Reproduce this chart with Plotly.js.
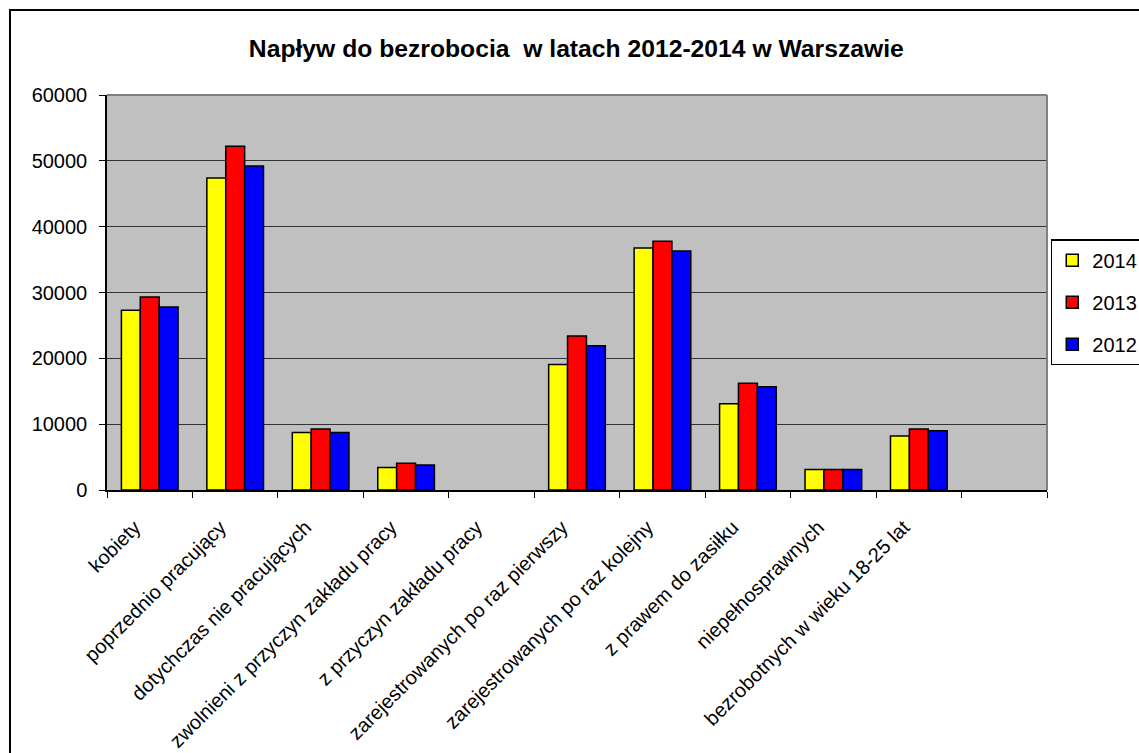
<!DOCTYPE html>
<html>
<head>
<meta charset="utf-8">
<script src="https://cdn.plot.ly/plotly-3.0.1.min.js"></script>
<style>
html,body{margin:0;padding:0;background:#fff;}
#chart{width:1139px;height:753px;}
</style>
</head>
<body>
<div id="chart"></div>
<script>
const categories = [
  "kobiety",
  "poprzednio pracujący",
  "dotychczas nie pracujących",
  "zwolnieni z przyczyn zakładu pracy",
  "z przyczyn zakładu pracy",
  "zarejestrowanych po raz pierwszy",
  "zarejestrowanych po raz kolejny",
  "z prawem do zasiłku",
  "niepełnosprawnych",
  "bezrobotnych w wieku 18-25 lat",
  " "
];
const values2014 = [27300, 47400, 8750, 3400, null, 19050, 36750, 13100, 3100, 8200, null];
const values2013 = [29300, 52200, 9250, 4050, null, 23400, 37800, 16200, 3100, 9250, null];
const values2012 = [27800, 49200, 8750, 3800, null, 21900, 36300, 15700, 3100, 9000, null];
const seriesNames = ["2014", "2013", "2012"];
const seriesColors = ["#FFFF00", "#FF0000", "#0000FF"];

const seriesValues = [values2014, values2013, values2012];
const traces = seriesValues.map((vals, i) => ({
  type: "bar",
  name: seriesNames[i],
  legendgroup: seriesNames[i],
  x: categories,
  y: vals,
  marker: {color: seriesColors[i], line: {color: "#000", width: 1.5}},
  hoverinfo: "x+y+name"
}));

const layout = {
  width: 1139,
  height: 753,
  paper_bgcolor: "#fff",
  plot_bgcolor: "#C0C0C0",
  font: {family: "Liberation Sans, Arial, sans-serif", color: "#000", size: 20},
  margin: {l: 107, r: 92, t: 95, b: 263, autoexpand: false},
  title: {
    text: "<b>Napływ do bezrobocia  w latach 2012-2014 w Warszawie</b>",
    font: {size: 24.7, family: "Liberation Sans, Arial, sans-serif", color: "#000"},
    xref: "container", x: 0.506, xanchor: "center",
    yref: "container", y: 0.936, yanchor: "middle"
  },
  barmode: "group",
  bargap: 0.337,
  bargroupgap: 0,
  xaxis: {
    type: "category",
    categoryorder: "array",
    categoryarray: categories,
    tickangle: -45,
    tickson: "boundaries",
    ticks: "outside",
    ticklen: 6,
    tickcolor: "#000",
    showline: true,
    linecolor: "#000",
    linewidth: 1.5,
    showgrid: false,
    tickfont: {size: 20},
    ticklabelshift: -15,
    ticklabelstandoff: 16,
    fixedrange: true
  },
  yaxis: {
    range: [0, 60000],
    dtick: 10000,
    tickformat: "d",
    ticks: "outside",
    ticklen: 6,
    tickcolor: "#000",
    showline: true,
    linecolor: "#000",
    linewidth: 1.5,
    showgrid: true,
    gridcolor: "#333",
    gridwidth: 1,
    zeroline: false,
    tickfont: {size: 20},
    ticklabelstandoff: 8,
    fixedrange: true
  },
  showlegend: true,
  legend: {
    x: 1.004, xanchor: "left",
    y: 0.635, yanchor: "top",
    bgcolor: "#fff",
    bordercolor: "#000",
    borderwidth: 1.5,
    font: {size: 20},
    traceorder: "grouped",
    tracegroupgap: 13,
    itemwidth: 30
  },
  shapes: [
    {type: "line", xref: "paper", yref: "paper", x0: 0, x1: 1, y0: 1, y1: 1, line: {color: "#808080", width: 2}},
    {type: "line", xref: "paper", yref: "paper", x0: 1, x1: 1, y0: 0, y1: 1, line: {color: "#808080", width: 2}},
    {type: "rect", xref: "paper", yref: "paper", x0: -0.1032, x1: 1.3, y0: 1.2152, y1: -1, line: {color: "#000", width: 2}, fillcolor: "rgba(0,0,0,0)"}
  ]
};

Plotly.newPlot("chart", traces, layout, {displayModeBar: false, staticPlot: false});
</script>
</body>
</html>
